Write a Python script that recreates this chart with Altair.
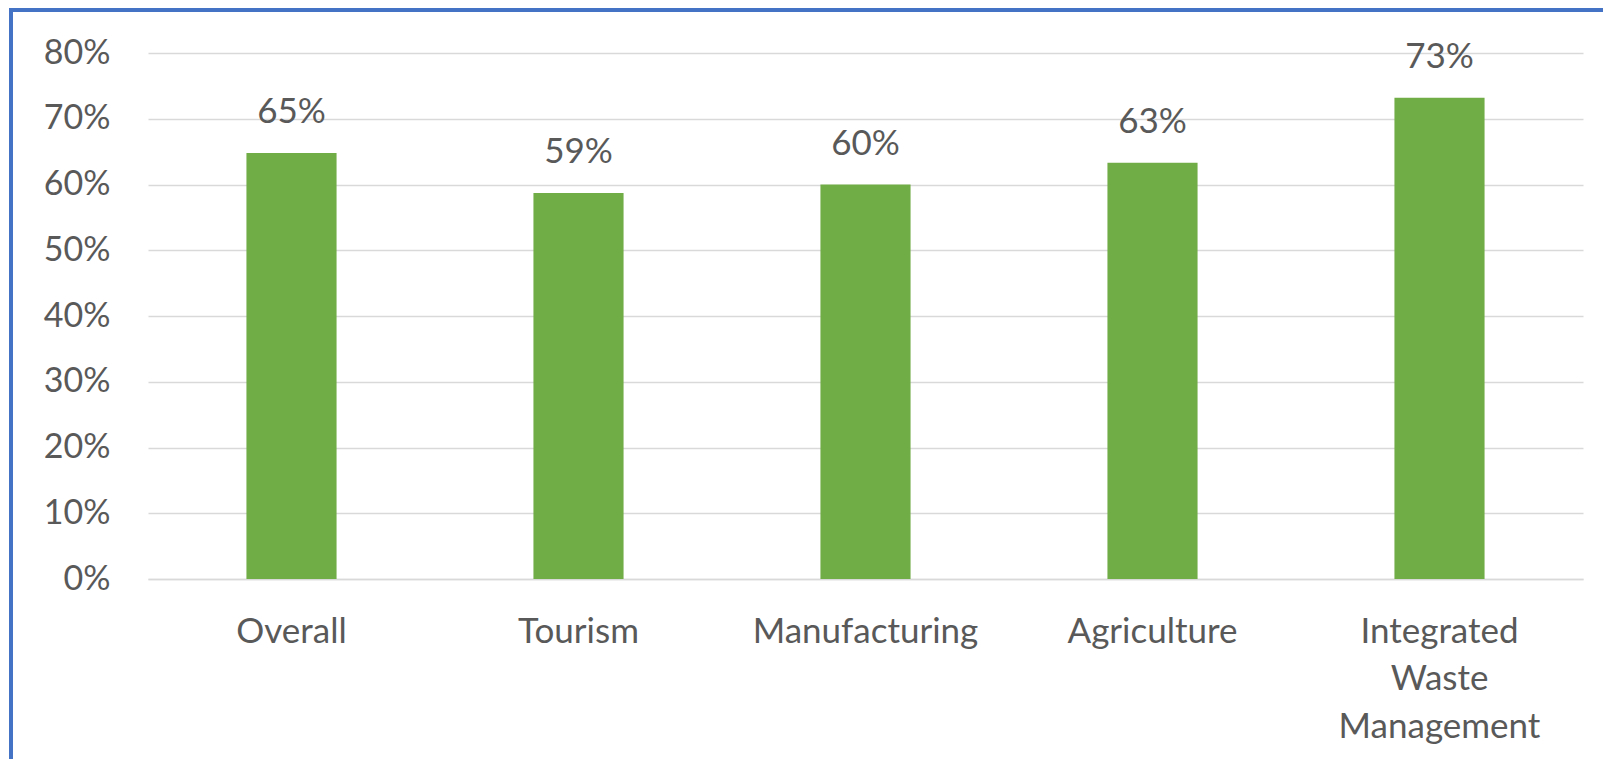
import altair as alt
import pandas as pd

categories = ["Overall", "Tourism", "Manufacturing", "Agriculture", "Integrated Waste Management"]
values = [0.648, 0.587, 0.600, 0.633, 0.732]
y_ticks = [0, 0.1, 0.2, 0.3, 0.4, 0.5, 0.6, 0.7, 0.8]

df = pd.DataFrame({"category": categories, "value": values})

FONT = "Lato"
TXT = "#595959"
W, H = 1435, 526

x_enc = alt.X(
    "category:N", sort=categories, title=None,
    scale=alt.Scale(paddingInner=0.686, paddingOuter=0.343),
    axis=alt.Axis(labelAngle=0, labelFont=FONT, labelFontSize=35, labelColor=TXT,
                  labelExpr="split(datum.value, ' ')", labelLineHeight=47.5,
                  labelPadding=35, labelLimit=0, ticks=False, domainColor="#D9D9D9",
                  domainWidth=1.5, labelBaseline="top"),
)
y_enc = alt.Y(
    "value:Q", title=None,
    scale=alt.Scale(domain=[0, 0.8], nice=False),
    axis=alt.Axis(values=y_ticks, format=".0%", labelFont=FONT, labelFontSize=34,
                  labelColor=TXT, labelPadding=38, ticks=False, domain=False,
                  gridColor="#D9D9D9", gridWidth=1.5),
)

bars = alt.Chart(df).mark_bar(color="#70AD47").encode(x=x_enc, y=y_enc)
labels = alt.Chart(df).mark_text(
    font=FONT, fontSize=35, color=TXT, baseline="alphabetic", dy=-30
).encode(x=alt.X("category:N", sort=categories), y="value:Q", text=alt.Text("value:Q", format=".0%"))

border_df = pd.DataFrame({"k": [0]})
top_border = alt.Chart(border_df).mark_rule(color="#4472C4", strokeWidth=4).encode(
    x=alt.value(-139), x2=alt.value(W + 40), y=alt.value(-43)
)
left_border = alt.Chart(border_df).mark_rule(color="#4472C4", strokeWidth=4).encode(
    x=alt.value(-137), y=alt.value(-45), y2=alt.value(H + 200)
)

chart = alt.layer(bars, labels, top_border, left_border).properties(
    width=W, height=H,
    autosize=alt.AutoSizeParams(type="none"),
    padding={"left": 140, "top": 45, "right": 20, "bottom": 180},
    background="white",
).configure_view(stroke=None)

chart.save("out.html", embed_options={"renderer": "svg", "actions": False})
